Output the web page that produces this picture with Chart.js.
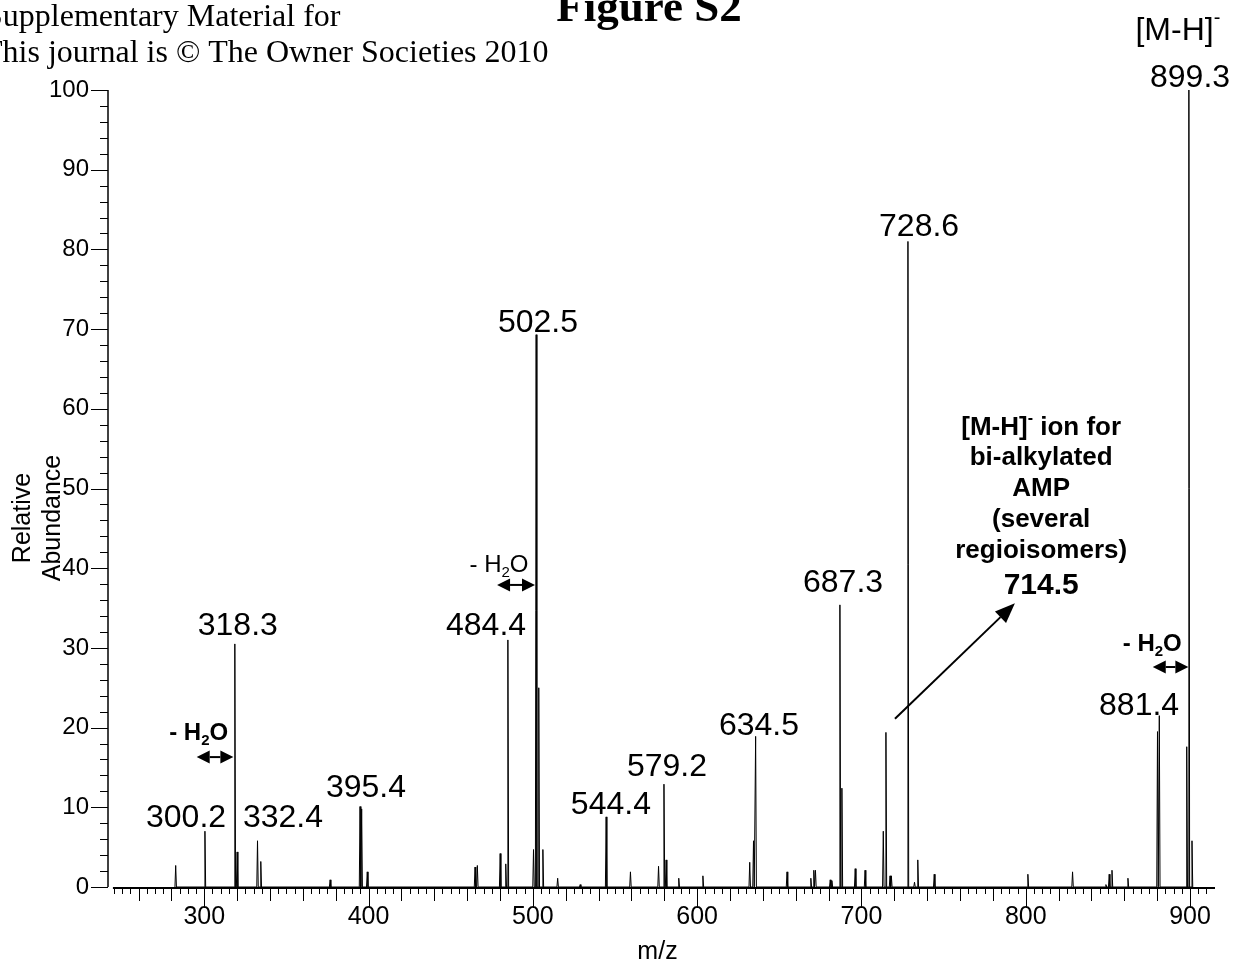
<!DOCTYPE html>
<html lang="en">
<head>
  <meta charset="UTF-8">
  <title>Figure S2</title>
  <script src="https://cdn.jsdelivr.net/npm/chart.js@4.4.1/dist/chart.umd.min.js"></script>
  <style>
    html, body { margin: 0; padding: 0; background: #fff; }
    #wrap { width: 1244px; height: 962px; }
  </style>
</head>
<body>
  <div id="wrap"><canvas id="spectrum" width="1244" height="962"></canvas></div>
  <script>
    // peaks: m/z and relative abundance (%)
    const peakMz = [282.6, 300.4, 318.6, 320.0, 332.4, 334.4, 376.6, 394.8, 395.8, 399.2,
      464.8, 466.2, 480.1, 483.5, 484.8, 500.4, 502.0, 503.6, 506.1, 515.1,
      528.8, 544.6, 559.4, 576.5, 579.8, 581.1, 588.8, 603.5, 632.0, 634.3,
      635.6, 654.7, 669.2, 671.0, 672.0, 681.0, 682.0, 686.9, 688.1, 696.2,
      702.2, 713.3, 714.9, 717.4, 718.2, 728.3, 732.3, 734.3, 744.3, 801.3,
      828.5, 848.8, 850.8, 852.5, 862.2, 880.2, 881.3, 898.0, 899.3, 901.2];
    const peakAbundance = [2.7, 7.0, 30.5, 4.4, 5.8, 3.2, 0.9, 10.1, 9.8, 1.9,
      2.5, 2.7, 4.2, 2.9, 31.0, 4.7, 69.3, 25.0, 4.7, 1.1,
      0.3, 8.8, 1.9, 2.6, 12.9, 3.4, 1.1, 1.4, 3.1, 5.8,
      18.9, 1.9, 1.1, 2.1, 2.1, 0.9, 0.8, 35.4, 12.4, 2.3,
      2.1, 7.0, 19.4, 1.4, 1.4, 81.0, 0.6, 3.4, 1.6, 1.6,
      1.9, 0.3, 1.6, 2.1, 1.1, 19.5, 21.5, 17.6, 100, 5.8];

    const xTickValues = [300, 400, 500, 600, 700, 800, 900];
    const yTickValues = [0, 10, 20, 30, 40, 50, 60, 70, 80, 90, 100];

    // peak labels: text, and the m/z / abundance where the label baseline sits
    const labelText = ['300.2', '318.3', '332.4', '395.4', '484.4', '502.5', '544.4',
      '579.2', '634.5', '687.3', '728.6', '881.4', '899.3'];
    const labelMz = [288.9, 320.4, 347.9, 398.4, 471.5, 503.1, 547.5,
      581.6, 637.6, 688.8, 735.1, 869.0, 900.0];
    const labelAt = [7.5, 31.6, 7.5, 11.3, 31.6, 69.6, 9.2,
      13.9, 19.1, 37.0, 81.7, 21.6, 100.4];

    const xMin = 241.4, xMax = 915.2;
    const PEAK_HALF_WIDTH = 0.45;
    const FONT_SANS = '"Liberation Sans", Arial, sans-serif';
    const FONT_SERIF = '"Liberation Serif", "Times New Roman", serif';

    // each peak as a narrow profile triangle on the baseline
    const profile = [];
    peakMz.forEach((mz, i) => {
      profile.push({ x: mz - PEAK_HALF_WIDTH, y: 0 });
      profile.push({ x: mz, y: peakAbundance[i] });
      profile.push({ x: mz + PEAK_HALF_WIDTH, y: 0 });
    });

    function drawParts(ctx, parts, x, y, size, weight, align) {
      const fontFor = k => `${weight} ${k ? Math.round(size * 0.62) : size}px ${FONT_SANS}`;
      let total = 0;
      parts.forEach(([t, k]) => { ctx.font = fontFor(k); total += ctx.measureText(t).width; });
      let cx = align === 'center' ? x - total / 2 : align === 'right' ? x - total : x;
      ctx.textAlign = 'left';
      ctx.textBaseline = 'alphabetic';
      parts.forEach(([t, k]) => {
        ctx.font = fontFor(k);
        const dy = k === 'sub' ? size * 0.2 : k === 'sup' ? -size * 0.48 : 0;
        ctx.fillText(t, cx, y + dy);
        cx += ctx.measureText(t).width;
      });
    }

    function doubleArrow(ctx, xl, xr, y) {
      const L = 13, H = 6.5;
      ctx.lineWidth = 2;
      ctx.beginPath(); ctx.moveTo(xl + L, y); ctx.lineTo(xr - L, y); ctx.stroke();
      ctx.beginPath(); ctx.moveTo(xl, y); ctx.lineTo(xl + L, y - H); ctx.lineTo(xl + L, y + H); ctx.closePath(); ctx.fill();
      ctx.beginPath(); ctx.moveTo(xr, y); ctx.lineTo(xr - L, y - H); ctx.lineTo(xr - L, y + H); ctx.closePath(); ctx.fill();
    }

    function arrow(ctx, x1, y1, x2, y2) {
      const a = Math.atan2(y2 - y1, x2 - x1), L = 20, W = 8;
      const bx = x2 - L * Math.cos(a), by = y2 - L * Math.sin(a);
      ctx.lineWidth = 2;
      ctx.beginPath(); ctx.moveTo(x1, y1); ctx.lineTo(bx, by); ctx.stroke();
      ctx.beginPath();
      ctx.moveTo(x2, y2);
      ctx.lineTo(bx + W * Math.sin(a), by - W * Math.cos(a));
      ctx.lineTo(bx - W * Math.sin(a), by + W * Math.cos(a));
      ctx.closePath(); ctx.fill();
    }

    const spectrumDecor = {
      id: 'spectrumDecor',
      afterDraw(chart) {
        const ctx = chart.ctx;
        const xs = chart.scales.x, ys = chart.scales.y;
        const X = v => xs.getPixelForValue(v);
        const Y = v => ys.getPixelForValue(v);
        ctx.save();
        ctx.strokeStyle = '#000';
        ctx.fillStyle = '#000';

        // y axis with major (10) and minor (2) ticks
        const ax = xs.left;
        ctx.lineWidth = 1.5;
        ctx.beginPath(); ctx.moveTo(ax, Y(100)); ctx.lineTo(ax, Y(0)); ctx.stroke();
        ctx.lineWidth = 1;
        for (let v = 0; v <= 100; v += 2) {
          const len = v % 10 === 0 ? 17 : 8;
          const py = Math.round(Y(v)) + 0.5;
          ctx.beginPath(); ctx.moveTo(ax, py); ctx.lineTo(ax - len, py); ctx.stroke();
        }

        // x axis with ticks every 5, longer every 20, longest every 100
        const y0 = Y(0) + 1;
        ctx.lineWidth = 2;
        ctx.beginPath(); ctx.moveTo(X(244.4), y0); ctx.lineTo(xs.right, y0); ctx.stroke();
        ctx.lineWidth = 1;
        for (let v = 245; v <= 910; v += 5) {
          const len = v % 100 === 0 ? 20 : v % 20 === 0 ? 13 : 6;
          const px = Math.round(X(v)) + 0.5;
          ctx.beginPath(); ctx.moveTo(px, y0); ctx.lineTo(px, y0 + len); ctx.stroke();
        }

        // axis titles
        ctx.font = `25px ${FONT_SANS}`;
        ctx.textAlign = 'center';
        ctx.textBaseline = 'alphabetic';
        ctx.fillText('m/z', (X(xMin) + X(xMax)) / 2 - 4, 959);
        ctx.save();
        ctx.translate(0, 518);
        ctx.rotate(-Math.PI / 2);
        ctx.textBaseline = 'middle';
        ctx.fillText('Relative', 0, 23);
        ctx.fillText('Abundance', 0, 53);
        ctx.restore();

        // peak labels
        ctx.font = `32px ${FONT_SANS}`;
        ctx.textAlign = 'center';
        ctx.textBaseline = 'alphabetic';
        labelText.forEach((t, i) => ctx.fillText(t, X(labelMz[i]), Y(labelAt[i])));

        // [M-H]- above the base peak
        drawParts(ctx, [['[M-H]', ''], ['-', 'sup']], X(892.6), Y(106.3), 32, 'normal', 'center');

        // water losses
        drawParts(ctx, [['- H', ''], ['2', 'sub'], ['O', '']], X(296.6), Y(18.4), 24, 'bold', 'center');
        doubleArrow(ctx, X(295.4), X(317.7), Y(16.3));
        drawParts(ctx, [['- H', ''], ['2', 'sub'], ['O', '']], X(479.4), Y(39.5), 24, 'normal', 'center');
        doubleArrow(ctx, X(478.2), X(501.3), Y(37.9));
        drawParts(ctx, [['- H', ''], ['2', 'sub'], ['O', '']], X(877.0), Y(29.6), 24, 'bold', 'center');
        doubleArrow(ctx, X(877.3), X(899.0), Y(27.6));

        // bi-alkylated AMP call-out
        const cx = X(809.4);
        drawParts(ctx, [['[M-H]', ''], ['-', 'sup'], [' ion for', '']], cx, Y(56.7), 26, 'bold', 'center');
        ctx.font = `bold 26px ${FONT_SANS}`;
        ctx.textAlign = 'center';
        ctx.fillText('bi-alkylated', cx, Y(52.9));
        ctx.fillText('AMP', cx, Y(49.1));
        ctx.fillText('(several', cx, Y(45.2));
        ctx.fillText('regioisomers)', cx, Y(41.3));
        ctx.font = `bold 30px ${FONT_SANS}`;
        ctx.fillText('714.5', cx, Y(36.8));
        arrow(ctx, X(720.4), Y(21.1), X(793.4), Y(35.6));

        // page header
        ctx.textAlign = 'left';
        ctx.font = `32px ${FONT_SERIF}`;
        ctx.fillText('Supplementary Material for', -15, 26);
        ctx.fillText('This journal is \u00A9 The Owner Societies 2010', -17, 62);
        ctx.textAlign = 'center';
        ctx.font = `bold 45px ${FONT_SERIF}`;
        ctx.fillText('Figure S2', 649, 21);
        ctx.restore();
      }
    };

    new Chart(document.getElementById('spectrum'), {
      type: 'line',
      data: {
        datasets: [{
          data: profile,
          borderColor: '#000',
          borderWidth: 1,
          pointRadius: 0,
          tension: 0,
          fill: false
        }]
      },
      options: {
        responsive: false,
        animation: false,
        layout: { padding: { top: 90, right: 29, left: 0, bottom: 0 } },
        plugins: { legend: { display: false }, tooltip: { enabled: false } },
        scales: {
          x: {
            type: 'linear',
            min: xMin,
            max: xMax,
            afterFit: s => { s.height = 75; },
            afterBuildTicks: s => { s.ticks = xTickValues.map(v => ({ value: v })); },
            grid: { display: false, drawTicks: false },
            border: { display: false },
            ticks: { padding: 15, color: '#000', autoSkip: false, maxRotation: 0,
              font: { family: FONT_SANS, size: 25 } }
          },
          y: {
            min: 0,
            max: 100,
            afterFit: s => { s.width = 108; },
            afterBuildTicks: s => { s.ticks = yTickValues.map(v => ({ value: v })); },
            grid: { display: false, drawTicks: false },
            border: { display: false },
            ticks: { padding: 19, color: '#000', font: { family: FONT_SANS, size: 24 } }
          }
        }
      },
      plugins: [spectrumDecor]
    });
  </script>
</body>
</html>
